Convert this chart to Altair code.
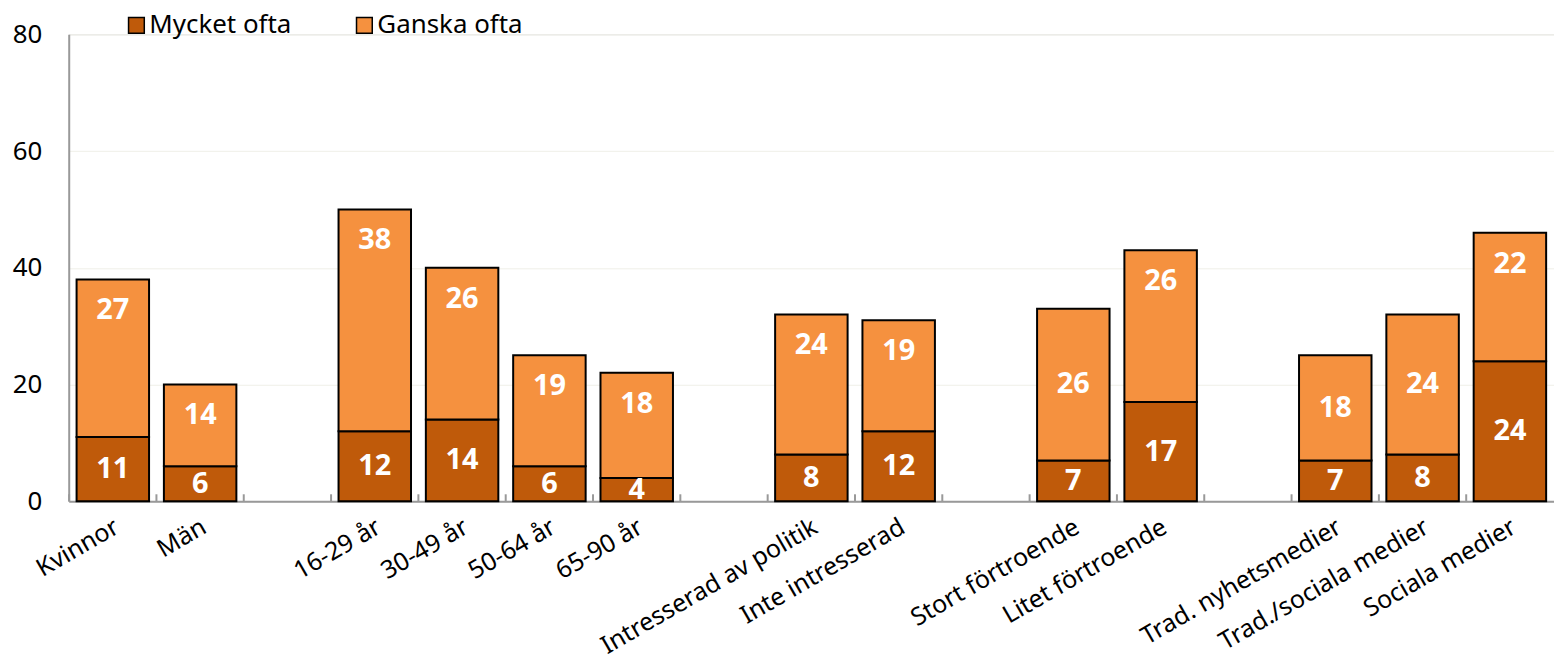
import json
import altair as alt
import pandas as pd

categories = ["Kvinnor", "Män", " ", "16-29 år", "30-49 år", "50-64 år", "65-90 år", "  ",
              "Intresserad av politik", "Inte intresserad", "   ",
              "Stort förtroende", "Litet förtroende", "    ",
              "Trad. nyhetsmedier", "Trad./sociala medier", "Sociala medier"]
bar_categories = ["Kvinnor", "Män", "16-29 år", "30-49 år", "50-64 år", "65-90 år",
                  "Intresserad av politik", "Inte intresserad",
                  "Stort förtroende", "Litet förtroende",
                  "Trad. nyhetsmedier", "Trad./sociala medier", "Sociala medier"]
mycket_ofta = [11, 6, 12, 14, 6, 4, 8, 12, 7, 17, 7, 8, 24]
ganska_ofta = [27, 14, 38, 26, 19, 18, 24, 19, 26, 26, 18, 24, 22]
series = ["Mycket ofta", "Ganska ofta"]
colors = ["#BF5A0A", "#F5913F"]
y_ticks = [0, 20, 40, 60, 80]
# Categories whose "Ganska ofta" label sits centred in its segment (others sit near the top)
ganska_centered = ["Stort förtroende", "Trad. nyhetsmedier", "Trad./sociala medier"]

rows = []
for c, m, g in zip(bar_categories, mycket_ofta, ganska_ofta):
    rows.append({"cat": c, "serie": series[0], "value": m, "ord": 0})
    rows.append({"cat": c, "serie": series[1], "value": g, "ord": 1})
df = pd.DataFrame(rows)
ticks_df = pd.DataFrame({"cat": categories})

FONT = "Noto Sans"
W, H = 1492, 469

xscale = alt.Scale(domain=categories, paddingInner=0.17, paddingOuter=0.09)
yscale = alt.Scale(domain=[0, 80])

x_enc = alt.X("cat:N", scale=xscale, sort=categories, title=None,
              axis=alt.Axis(labelAngle=-30, labelFontSize=25, labelFont=FONT,
                            labelColor="#000000", labelPadding=13, labelOffset=-2,
                            ticks=False, domainColor="#999999", domainWidth=2,
                            labelLimit=400))

bars = alt.Chart(df).mark_bar(stroke="#000000", strokeWidth=2).encode(
    x=x_enc,
    y=alt.Y("value:Q", stack="zero", scale=yscale, title=None,
            axis=alt.Axis(values=y_ticks, labelFontSize=26, labelFont=FONT,
                          labelColor="#000000", ticks=False, labelPadding=27,
                          domainColor="#999999", domainWidth=2,
                          gridColor="#EFEFE8", gridWidth=1)),
    color=alt.Color("serie:N", scale=alt.Scale(domain=series, range=colors),
                    legend=alt.Legend(title=None, orient="none", legendX=55, legendY=-22,
                                      direction="horizontal", symbolType="square",
                                      symbolSize=250, symbolStrokeColor="#000000",
                                      symbolStrokeWidth=1.5, symbolOpacity=1,
                                      labelFontSize=26, labelFont=FONT,
                                      labelColor="#000000", columnPadding=60,
                                      labelOffset=0, padding=0)),
    order=alt.Order("ord:Q"),
)

centered_expr = "indexof(" + json.dumps(ganska_centered) + ", datum.cat) >= 0"

stacked = alt.Chart(df).transform_stack(
    stack="value", groupby=["cat"], as_=["v0", "v1"], sort=[alt.SortField("ord")]
).transform_calculate(mid="(datum.v0 + datum.v1) / 2")

labels_mid = stacked.transform_filter(
    "datum.ord == 0 || " + centered_expr
).mark_text(
    color="#FFFFFF", fontSize=29, fontWeight="bold", font=FONT, baseline="middle"
).encode(
    x=alt.X("cat:N", scale=xscale, sort=categories),
    y=alt.Y("mid:Q", scale=yscale),
    text=alt.Text("value:Q"),
)

labels_top = stacked.transform_filter(
    "datum.ord == 1 && !(" + centered_expr + ")"
).mark_text(
    color="#FFFFFF", fontSize=29, fontWeight="bold", font=FONT, baseline="middle", dy=31
).encode(
    x=alt.X("cat:N", scale=xscale, sort=categories),
    y=alt.Y("v1:Q", scale=yscale),
    text=alt.Text("value:Q"),
)

tick_rules = alt.Chart(ticks_df).mark_rule(color="#999999", strokeWidth=2, xOffset=-7.5).encode(
    x=alt.X("cat:N", scale=xscale, sort=categories, bandPosition=0),
    y=alt.value(H),
    y2=alt.value(H - 7),
)

chart = alt.layer(bars, tick_rules, labels_mid, labels_top).properties(
    width=W, height=H,
    autosize=alt.AutoSizeParams(type="none"),
    padding={"left": 61, "top": 25, "right": 0, "bottom": 164},
).configure_view(stroke=None).configure(font=FONT)

chart.save("out.html", embed_options={"renderer": "svg", "actions": False})
